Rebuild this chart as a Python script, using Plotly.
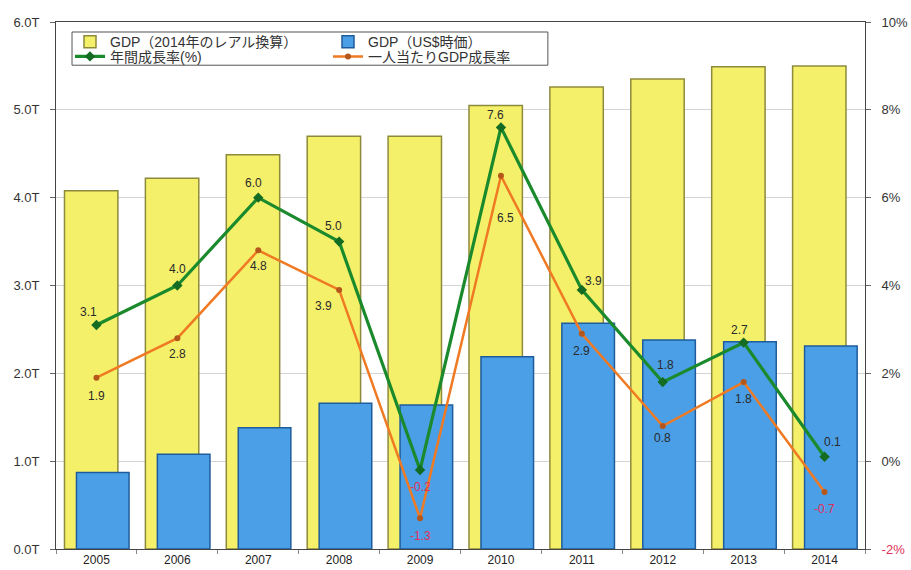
import plotly.graph_objects as go

years = ["2005", "2006", "2007", "2008", "2009", "2010", "2011", "2012", "2013", "2014"]
gdp_real = [4.08, 4.22, 4.49, 4.70, 4.70, 5.05, 5.26, 5.35, 5.49, 5.50]   # trillions BRL (2014 reals)
gdp_usd = [0.87, 1.08, 1.38, 1.66, 1.64, 2.19, 2.57, 2.38, 2.36, 2.31]    # trillions US$
growth = [3.1, 4.0, 6.0, 5.0, -0.2, 7.6, 3.9, 1.8, 2.7, 0.1]
growth_pc = [1.9, 2.8, 4.8, 3.9, -1.3, 6.5, 2.9, 0.8, 1.8, -0.7]

left_ticks = [0, 1, 2, 3, 4, 5, 6]
left_ticktext = ["0.0T", "1.0T", "2.0T", "3.0T", "4.0T", "5.0T", "6.0T"]
right_ticks = [-2, 0, 2, 4, 6, 8, 10]
right_ticktext = ["<span style='color:#e0305a'>-2%</span>", "0%", "2%", "4%", "6%", "8%", "10%"]

names = ["GDP（2014年のレアル換算）", "GDP（US$時価）", "年間成長率(%)", "一人当たりGDP成長率"]

# label offsets (pixels) relative to each point: (dx, dy) with dy positive = down
growth_off = [(-8, -13), (0, -17), (-5, -15), (-6, -16), (0, 17), (-5, -12), (12, -9), (3, -17), (-4, -13), (8, -15)]
growth_pc_off = [(0, 18), (0, 16), (0, 16), (-16, 16), (0, 18), (5, 42), (0, 17), (0, 12), (0, 17), (0, 17)]

FONT = "Liberation Sans, Arial, Noto Sans CJK JP, sans-serif"

fig = go.Figure()
fig.add_trace(go.Bar(
    x=years, y=gdp_real, name=names[0], legend="legend",
    marker=dict(color="#f5f06a", line=dict(color="#8e8a3c", width=1.5)),
    width=0.66, offset=-0.395,
))
fig.add_trace(go.Bar(
    x=years, y=gdp_usd, name=names[1], legend="legend",
    marker=dict(color="#4a9fe6", line=dict(color="#1f5c9c", width=1.5)),
    width=0.65, offset=-0.247,
))
fig.add_trace(go.Scatter(
    x=years, y=growth, name=names[2], yaxis="y2", legend="legend2",
    mode="lines+markers",
    line=dict(color="#1a8a2c", width=3.2),
    marker=dict(symbol="diamond", size=8, color="#146b22"),
))
fig.add_trace(go.Scatter(
    x=years, y=growth_pc, name=names[3], yaxis="y2", legend="legend2",
    mode="lines+markers",
    line=dict(color="#ef7a23", width=2.5),
    marker=dict(symbol="circle", size=6, color="#b5571a"),
))

annotations = []
for series, offs in ((growth, growth_off), (growth_pc, growth_pc_off)):
    for i, (v, (dx, dy)) in enumerate(zip(series, offs)):
        annotations.append(dict(
            x=i, y=v, xref="x", yref="y2", text=f"{v:.1f}", showarrow=False,
            xshift=dx, yshift=-dy,
            font=dict(family=FONT, size=12, color="#e0305a" if v < 0 else "#2a2a2a"),
        ))

fig.update_layout(
    width=911, height=570,
    margin=dict(l=56, r=46, t=22, b=21, autoexpand=False),
    paper_bgcolor="white", plot_bgcolor="white",
    barmode="overlay",
    font=dict(family=FONT, size=12, color="#333333"),
    annotations=annotations,
    xaxis=dict(
        type="category", range=[-0.5, len(years) - 0.5], autorange=False, automargin=False,
        showgrid=False, showline=True, linecolor="#444444", linewidth=1,
        mirror=True, ticks="outside", tickson="boundaries", ticklen=4, tickcolor="#888888",
        tickfont=dict(size=12, color="#222222"), tickangle=0,
    ),
    yaxis=dict(
        range=[0, 6], tickvals=left_ticks, ticktext=left_ticktext, automargin=False,
        showgrid=True, gridcolor="#d4d4d4", gridwidth=1,
        showline=True, linecolor="#444444", linewidth=1,
        ticks="outside", ticklen=5, tickcolor="#666666",
        tickfont=dict(size=13, color="#333333"), ticklabelstandoff=8,
        zeroline=False,
    ),
    yaxis2=dict(
        range=[-2, 10], tickvals=right_ticks, ticktext=right_ticktext, automargin=False,
        overlaying="y", side="right", showgrid=False,
        showline=True, linecolor="#444444", linewidth=1,
        ticks="outside", ticklen=5, tickcolor="#666666",
        tickfont=dict(size=13, color="#333333"), ticklabelstandoff=8,
        zeroline=False,
    ),
    legend=dict(
        orientation="h", x=0.0173, y=0.962, xanchor="left", yanchor="middle",
        entrywidth=213, entrywidthmode="pixels", bgcolor="rgba(0,0,0,0)",
        font=dict(size=14, color="#333333"), tracegroupgap=0, itemwidth=30,
    ),
    legend2=dict(
        orientation="h", x=0.0173, y=0.934, xanchor="left", yanchor="middle",
        entrywidth=213, entrywidthmode="pixels", bgcolor="rgba(0,0,0,0)",
        font=dict(size=14, color="#333333"), tracegroupgap=0, itemwidth=30,
    ),
    shapes=[dict(
        type="rect", xref="paper", yref="paper", x0=0.0198, x1=0.608, y0=0.918, y1=0.981,
        line=dict(color="#555555", width=1), fillcolor="white", layer="below",
    )],
)

fig.write_html("out.html")
